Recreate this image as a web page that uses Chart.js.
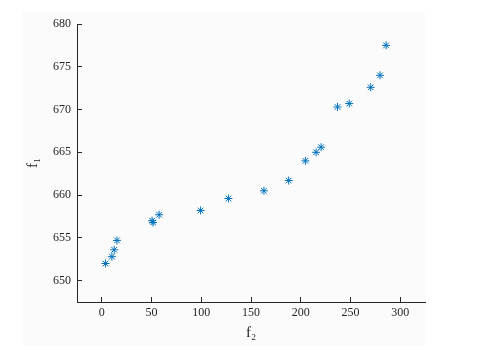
<!DOCTYPE html>
<html>
<head>
<meta charset="utf-8">
<script src="https://cdn.jsdelivr.net/npm/chart.js@4/dist/chart.umd.min.js"></script>
<style>
  html, body { margin: 0; padding: 0; background: #fff; }
  canvas { display: block; }
</style>
</head>
<body>
<canvas id="paretoChart" width="491" height="356"></canvas>
<script>
"use strict";

// f2 (x) and f1 (y)
var f2Values = [3.7, 10.1, 12.4, 15.2, 50.5, 51.5, 57.6, 99.3, 127.3, 163.0, 187.9, 204.7, 215.5, 220.5, 237.0, 248.8, 270.4, 279.8, 285.9];
var f1Values = [652.0, 652.8, 653.6, 654.7, 657.0, 656.8, 657.7, 658.2, 659.6, 660.5, 661.7, 664.0, 665.0, 665.6, 670.3, 670.7, 672.6, 674.0, 677.5];
var xTickValues = [0, 50, 100, 150, 200, 250, 300];
var yTickValues = [650, 655, 660, 665, 670, 675, 680];
var xTitle = 'f\u2082';
var yTitle = 'f\u2081';

var points = f2Values.map(function (x, i) {
  return { x: x, y: f1Values[i] };
});

var axisColor = '#262626';
var tickFont = { family: '"Liberation Serif", "DejaVu Serif", serif', size: 12 };
var titleFont = { family: '"Liberation Serif", "DejaVu Serif", serif', size: 15 };

// faint grey figure background like the matlab export
var figureBg = {
  id: 'figureBg',
  beforeDraw: function (chart) {
    var c = chart.ctx;
    c.save();
    c.fillStyle = '#fbfbfb';
    c.fillRect(22, 12, 403, 333);
    c.restore();
  }
};

function fixedTicks(values) {
  return function (scale) {
    scale.ticks = values.map(function (v) { return { value: v }; });
  };
}

var ctx = document.getElementById('paretoChart');
var myChart = new Chart(ctx, {
  type: 'scatter',
  data: {
    datasets: [{
      data: points,
      pointStyle: 'star',
      radius: 4,
      borderWidth: 1,
      borderColor: '#0072BD',
      backgroundColor: '#0072BD'
    }]
  },
  options: {
    responsive: false,
    animation: false,
    devicePixelRatio: 1,
    layout: { padding: { top: 24, right: 66, left: 0, bottom: 0 } },
    plugins: {
      legend: { display: false },
      tooltip: { enabled: false }
    },
    scales: {
      x: {
        type: 'linear',
        min: -25,
        max: 325,
        afterBuildTicks: fixedTicks(xTickValues),
        afterFit: function (scale) { scale.height = 54; },
        border: { display: true, color: axisColor, width: 1 },
        grid: { drawOnChartArea: false, drawTicks: true, tickLength: -5, color: axisColor },
        ticks: { color: axisColor, font: tickFont, padding: 9, maxRotation: 0, autoSkip: false },
        title: { display: true, text: xTitle, color: axisColor, font: titleFont, padding: { top: 0, bottom: 14 } }
      },
      y: {
        type: 'linear',
        min: 647.5,
        max: 680,
        afterBuildTicks: fixedTicks(yTickValues),
        afterFit: function (scale) { scale.width = 77; },
        border: { display: true, color: axisColor, width: 1 },
        grid: { drawOnChartArea: false, drawTicks: true, tickLength: -5, color: axisColor },
        ticks: { color: axisColor, font: tickFont, padding: 11, autoSkip: false },
        title: { display: true, text: yTitle, color: axisColor, font: titleFont, padding: { top: 24, bottom: 0 } }
      }
    }
  },
  plugins: [figureBg]
});
</script>
</body>
</html>
